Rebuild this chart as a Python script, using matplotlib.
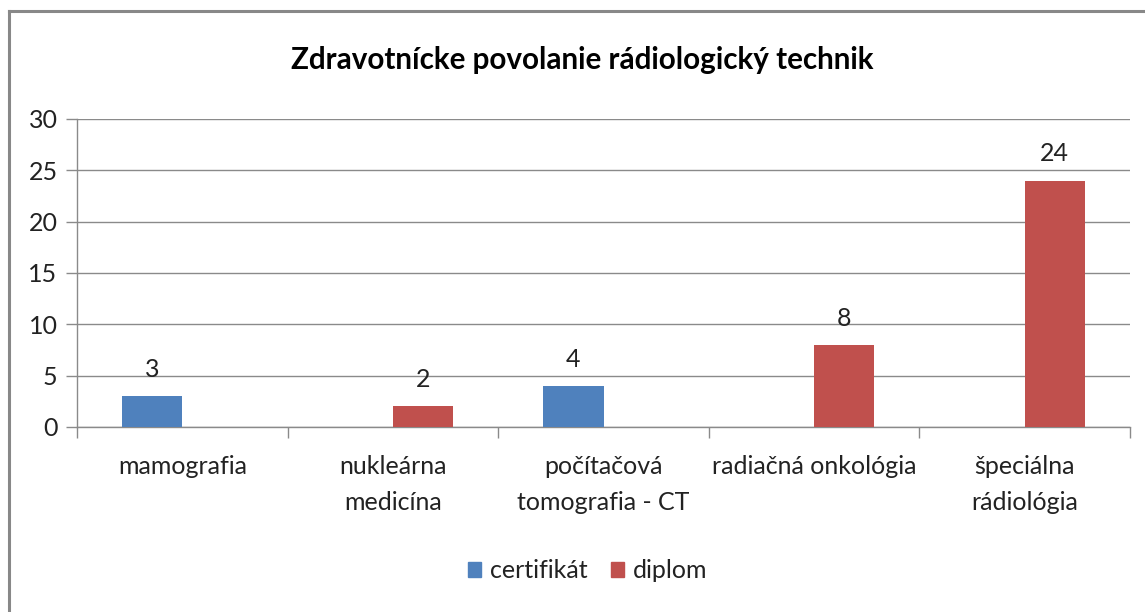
import matplotlib
matplotlib.use("Agg")
import matplotlib.pyplot as plt
import numpy as np
from matplotlib.patches import Rectangle
from matplotlib.lines import Line2D

plt.rcParams['font.family'] = ['Lato', 'DejaVu Sans']

title = "Zdravotnícke povolanie rádiologický technik"
categories = ["mamografia", "nukleárna\nmedicína", "počítačová\ntomografia - CT",
              "radiačná onkológia", "špeciálna\nrádiológia"]
series_names = ["certifikát", "diplom"]
certifikat = [3, None, 4, None, None]
diplom = [None, 2, None, 8, 24]
colors = ["#4F81BD", "#C0504D"]
yticks = [0, 5, 10, 15, 20, 25, 30]

FS = 18
W, H = 1145, 612
fig = plt.figure(figsize=(W / 100, H / 100), dpi=100)
ax = fig.add_axes([77 / W, 1 - 427 / H, (1130 - 77) / W, (427 - 119) / H])

n = len(categories)
x = np.arange(n)
bw = 1 / 3.5
for vals, col, off in zip([certifikat, diplom], colors, [-bw / 2, bw / 2]):
    for xi, v in zip(x, vals):
        if v is None:
            continue
        ax.bar(xi + off, v, width=bw, color=col, edgecolor='none', zorder=3)
        ax.annotate(str(v), (xi + off, v), xytext=(0, 11), textcoords='offset points',
                    ha='center', va='bottom', fontsize=FS, color='#222222')

ax.set_xlim(-0.5, n - 0.5)
ax.set_ylim(0, 30)
ax.set_yticks(yticks)
ax.set_yticklabels([str(t) for t in yticks], fontsize=FS, color='#222222')
ax.yaxis.grid(True, color='#8a8a8a', linewidth=1.0, zorder=0)
ax.set_axisbelow(True)
ax.tick_params(axis='y', length=8, width=1, color='#8a8a8a', pad=6)

ax.set_xticks(np.arange(-0.5, n, 1.0))
ax.set_xticklabels([])
ax.set_xticks(x, minor=True)
ax.set_xticklabels(categories, minor=True, fontsize=FS, color='#222222', linespacing=1.68)
ax.tick_params(axis='x', which='major', length=8, width=1, color='#8a8a8a', direction='out')
ax.tick_params(axis='x', which='minor', length=0, pad=20)
for lab in ax.get_xticklabels(minor=True):
    lab.set_va('top')

for s in ['top', 'right']:
    ax.spines[s].set_visible(False)
for s in ['left', 'bottom']:
    ax.spines[s].set_color('#8a8a8a')
    ax.spines[s].set_linewidth(1.0)

fig.text(582 / W, 1 - 60 / H, title, ha='center', va='center', fontsize=21.3,
         fontweight='bold', color='black')

handles = [Rectangle((0, 0), 1, 1, color=c) for c in colors]
leg = fig.legend(handles, series_names, loc='center', bbox_to_anchor=(588 / W, 1 - 571 / H),
                 ncol=2, frameon=False, fontsize=FS, handlelength=0.52, handleheight=0.52,
                 handletextpad=0.35, columnspacing=0.95)
for t in leg.get_texts():
    t.set_color('#222222')

# outer chart border
fig.add_artist(Line2D([8.5 / W, 8.5 / W], [0, 1 - 11 / H], transform=fig.transFigure,
                      color='#888888', linewidth=2.2))
fig.add_artist(Line2D([8.5 / W, 1], [1 - 11 / H, 1 - 11 / H], transform=fig.transFigure,
                      color='#888888', linewidth=2.2))

fig.savefig("out.png", dpi=100)
